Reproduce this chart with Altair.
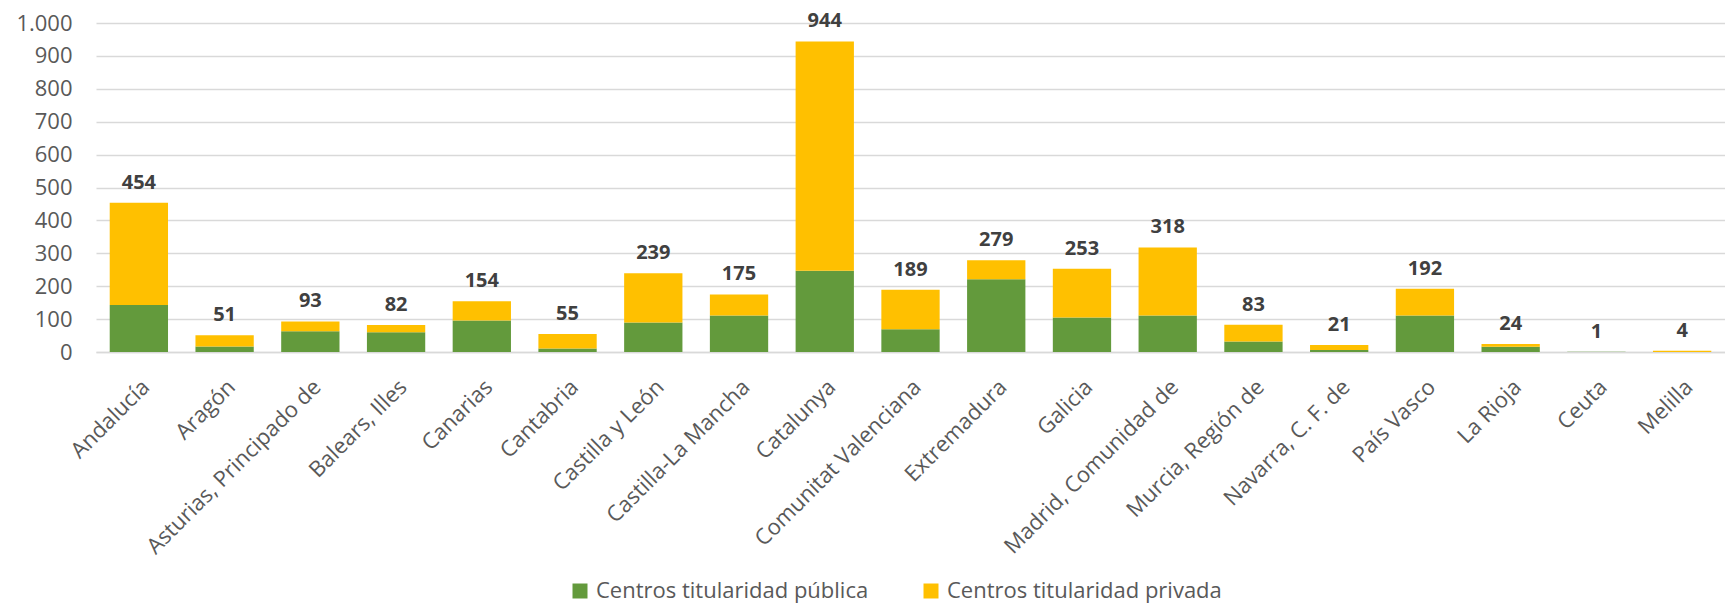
import altair as alt
import pandas as pd

regiones = ["Andalucía", "Aragón", "Asturias, Principado de", "Balears, Illes", "Canarias",
            "Cantabria", "Castilla y León", "Castilla-La Mancha", "Catalunya",
            "Comunitat Valenciana", "Extremadura", "Galicia", "Madrid, Comunidad de",
            "Murcia, Región de", "Navarra, C. F. de", "País Vasco", "La Rioja", "Ceuta", "Melilla"]
publica = [143, 17, 63, 60, 96, 11, 90, 111, 247, 69, 221, 105, 111, 32, 6, 111, 16, 1, 0]
privada = [311, 34, 30, 22, 58, 44, 149, 64, 697, 120, 58, 148, 207, 51, 15, 81, 8, 0, 4]
series = ["Centros titularidad pública", "Centros titularidad privada"]
colores = ["#639A3C", "#FFC000"]
ticks_y = [0, 100, 200, 300, 400, 500, 600, 700, 800, 900, 1000]

rows = []
for r, pu, pr in zip(regiones, publica, privada):
    rows.append({"region": r, "serie": series[0], "valor": pu, "orden": 0})
    rows.append({"region": r, "serie": series[1], "valor": pr, "orden": 1})
df = pd.DataFrame(rows)
tot = pd.DataFrame({"region": regiones, "total": [a + b for a, b in zip(publica, privada)]})

FONT = "Open Sans"
xaxis = alt.Axis(labelAngle=-45, labelFontSize=22, labelColor="#595959", labelFont=FONT,
                 ticks=False, domainColor="#D9D9D9", domainWidth=1.5, labelPadding=24,
                 labelLimit=400, labelOverlap=False)
yaxis = alt.Axis(values=ticks_y, domain=False, ticks=False, labelOverlap=False,
                 labelFontSize=22, labelColor="#595959", labelFont=FONT, labelPadding=24,
                 gridColor="#D9D9D9", gridWidth=1.5,
                 labelExpr="replace(format(datum.value, ','), ',', '.')")
xscale = alt.Scale(paddingInner=0.32, paddingOuter=0.16)
yscale = alt.Scale(domain=[0, 1000])

bars = alt.Chart(df).mark_bar().encode(
    x=alt.X("region:N", sort=regiones, title=None, scale=xscale, axis=xaxis),
    y=alt.Y("valor:Q", stack="zero", title=None, scale=yscale, axis=yaxis),
    color=alt.Color("serie:N", sort=series,
                    scale=alt.Scale(domain=series, range=colores),
                    legend=alt.Legend(title=None, orient="none", direction="horizontal",
                                      legendX=473, legendY=557, symbolType="square", symbolSize=225,
                                      symbolStrokeWidth=0, labelFontSize=22, labelFont=FONT,
                                      labelColor="#595959", columnPadding=51, labelOffset=5,
                                      labelLimit=400)),
    order=alt.Order("orden:Q"),
)

labels = alt.Chart(tot).mark_text(baseline="alphabetic", dy=-14, fontSize=20, fontWeight="bold",
                                  font=FONT, color="#404040").encode(
    x=alt.X("region:N", sort=regiones, title=None, scale=xscale, axis=xaxis),
    y=alt.Y("total:Q", title=None, scale=yscale, axis=yaxis),
    text=alt.Text("total:Q", format="d"),
)

chart = alt.layer(bars, labels).properties(
    width=1629, height=329,
    autosize=alt.AutoSizeParams(type="none"),
    padding={"left": 88, "top": 15, "right": 0, "bottom": 260},
).configure_view(stroke=None)

chart.save("out.html", embed_options={"renderer": "svg", "actions": False})
